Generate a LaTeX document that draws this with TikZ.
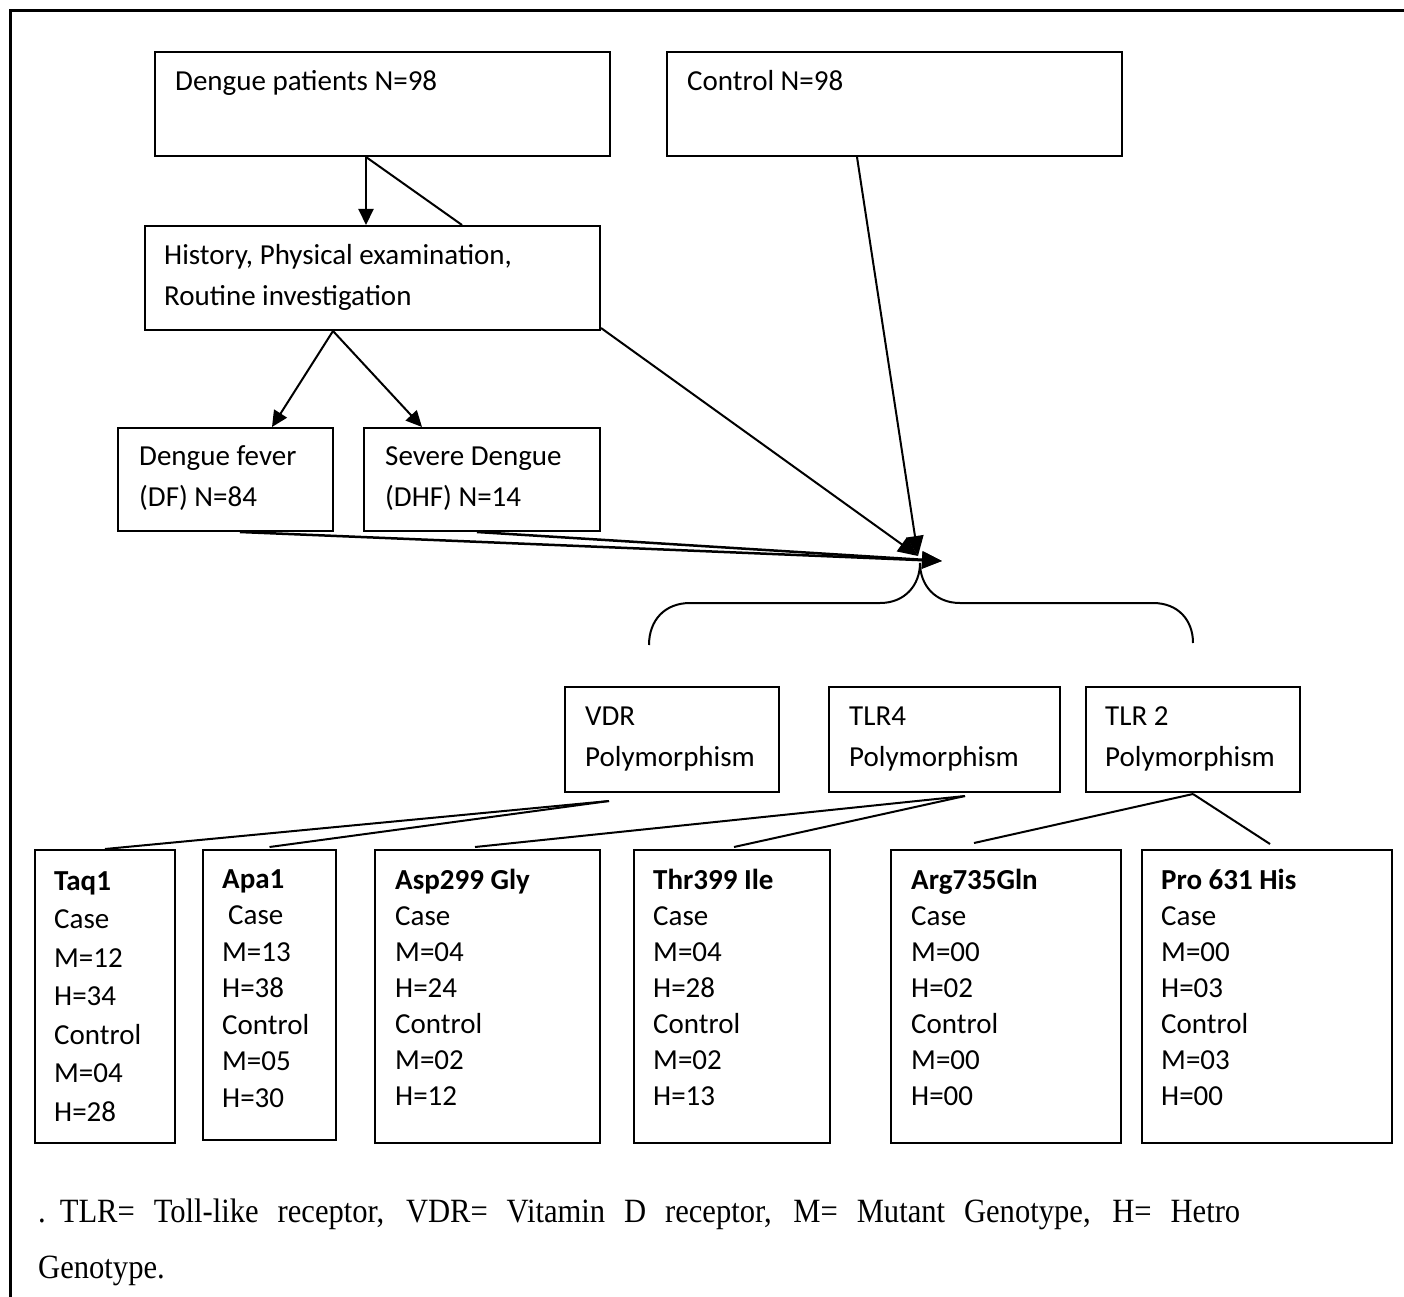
\documentclass[tikz,border=0pt]{standalone}
\usepackage{fontspec}
\setmainfont{Carlito}
\newfontfamily\notefont{Liberation Serif}[FakeStretch=0.9]
\usetikzlibrary{arrows.meta}
\newcommand{\st}{\rule{0pt}{20pt}}

\begin{document}
\begin{tikzpicture}
[
    x = 1pt, y = -1pt,
    box/.style  = {draw, line width = 2pt, inner sep = 0pt},
    txt/.style  = {anchor = north west, inner sep = 0pt, align = left, font = \fontsize{29}{41}\selectfont},
    res/.style  = {txt, font = \fontsize{29}{36}\selectfont},
    link/.style = {line width = 2pt},
    arr/.style  = {line width = 2pt, -{Triangle[length = 16pt, width = 15pt]}},
    bigarr/.style = {arr, -{Triangle[length = 20pt, width = 17pt]}}
]
\useasboundingbox (0,0) rectangle (1404,1297);
\draw[line width = 3pt] (10,1297) -- (10,11) -- (1404,11);

% top row
\node[box, minimum width = 455, minimum height = 104] (pat) at (382.5,104) {};
\node[txt] (patT) at ([xshift = 21pt, yshift = -19pt]pat.north west) {\st Dengue patients N=98};
\node[box, minimum width = 455, minimum height = 104] (ctl) at (894.5,104) {};
\node[txt] (ctlT) at ([xshift = 21pt, yshift = -19pt]ctl.north west) {\st Control N=98};
\node[box, minimum width = 455, minimum height = 104] (hist) at (372.5,278) {};
\node[txt] (histT) at ([xshift = 20pt, yshift = -19pt]hist.north west) {\st History, Physical examination,\\ Routine investigation};

% clinical groups
\node[box, minimum width = 215, minimum height = 103] (df) at (225.5,479.5) {};
\node[txt] (dfT) at ([xshift = 22pt, yshift = -18pt]df.north west) {\st Dengue fever\\ (DF) N=84};
\node[box, minimum width = 236, minimum height = 103] (dhf) at (482,479.5) {};
\node[txt] (dhfT) at ([xshift = 22pt, yshift = -18pt]dhf.north west) {\st Severe Dengue\\ (DHF) N=14};

% polymorphisms
\node[box, minimum width = 214, minimum height = 105] (vdr) at (672,739.5) {};
\node[txt] (vdrT) at ([xshift = 21pt, yshift = -19pt]vdr.north west) {\st VDR\\ Polymorphism};
\node[box, minimum width = 231, minimum height = 105] (tlr4) at (944.5,739.5) {};
\node[txt] (tlr4T) at ([xshift = 21pt, yshift = -19pt]tlr4.north west) {\st TLR4\\ Polymorphism};
\node[box, minimum width = 214, minimum height = 105] (tlr2) at (1193,739.5) {};
\node[txt] (tlr2T) at ([xshift = 20pt, yshift = -19pt]tlr2.north west) {\st TLR 2\\ Polymorphism};

% genotype counts
\node[box, minimum width = 140, minimum height = 293] (taq) at (105,996.5) {};
\node[res, font = \fontsize{29}{38.5}\selectfont] (taqT) at ([xshift = 20pt, yshift = -21pt]taq.north west)
    {\st\textbf{Taq1}\\ Case\\ M=12\\ H=34\\ Control\\ M=04\\ H=28};
\node[box, minimum width = 133, minimum height = 290] (apa) at (269.5,995) {};
\node[res, font = \fontsize{29}{36.5}\selectfont] (apaT) at ([xshift = 20pt, yshift = -19pt]apa.north west)
    {\st\textbf{Apa1}\\ \hspace{6pt}Case\\ M=13\\ H=38\\ Control\\ M=05\\ H=30};
\node[box, minimum width = 225, minimum height = 293] (asp) at (487.5,996.5) {};
\node[res] (aspT) at ([xshift = 21pt, yshift = -20pt]asp.north west)
    {\st\textbf{Asp299 Gly}\\ Case\\ M=04\\ H=24\\ Control\\ M=02\\ H=12};
\node[box, minimum width = 196, minimum height = 293] (thr) at (732,996.5) {};
\node[res] (thrT) at ([xshift = 20pt, yshift = -20pt]thr.north west)
    {\st\textbf{Thr399 Ile}\\ Case\\ M=04\\ H=28\\ Control\\ M=02\\ H=13};
\node[box, minimum width = 230, minimum height = 293] (arg) at (1006,996.5) {};
\node[res] (argT) at ([xshift = 21pt, yshift = -20pt]arg.north west)
    {\st\textbf{Arg735Gln}\\ Case\\ M=00\\ H=02\\ Control\\ M=00\\ H=00};
\node[box, minimum width = 250, minimum height = 293] (pro) at (1267,996.5) {};
\node[res] (proT) at ([xshift = 20pt, yshift = -20pt]pro.north west)
    {\st\textbf{Pro 631 His}\\ Case\\ M=00\\ H=03\\ Control\\ M=03\\ H=00};

% footnote
\node[anchor = base west, inner sep = 0pt, font = \notefont\fontsize{34}{56}\selectfont] (note) at (38,1222)
    {\makebox[1202pt][s]{.\hspace{14pt}TLR= Toll-like receptor, VDR= Vitamin D receptor, M= Mutant Genotype, H= Hetro}};
\node[anchor = base west, inner sep = 0pt, font = \notefont\fontsize{34}{56}\selectfont] (note2) at (38,1278) {Genotype.};

% connectors
\coordinate (hub) at (918,556);
\coordinate (tip) at (942,561);
\draw[arr] ([xshift = -16.5pt]pat.south) -- ([xshift = -6.5pt]hist.north);
\draw[link] ([xshift = -16.5pt]pat.south) -- ([xshift = 89.5pt]hist.north);
\draw[arr] ([xshift = -39.5pt]hist.south) -- ([xshift = 46.5pt]df.north);
\draw[arr] ([xshift = -39.5pt]hist.south) -- ([xshift = -60pt]dhf.north);
\draw[bigarr] ([yshift = 3pt]hist.south east) -- (hub);
\draw[bigarr] ([xshift = -37.5pt]ctl.south) -- (hub);
\draw[bigarr, line width = 2.5pt] ([xshift = 14.5pt]df.south) -- (tip);
\draw[bigarr, line width = 2.5pt] ([xshift = -5pt]dhf.south) -- (tip);

% brace
\draw[line width = 2pt] (649,645) .. controls (649,620) and (665,603) .. (690,603) -- (880,603)
    .. controls (905,603) and (920,585) .. (920,563)
    .. controls (920,585) and (935,603) .. (960,603) -- (1153,603)
    .. controls (1178,603) and (1193,620) .. (1193,643);

\draw[link] ([xshift = -63pt, yshift = -8pt]vdr.south) -- (taq.north);
\draw[link] ([xshift = -63pt, yshift = -8pt]vdr.south) -- ([yshift = 2pt]apa.north);
\draw[link] ([xshift = 20.5pt, yshift = -3pt]tlr4.south) -- ([xshift = -12.5pt, yshift = 2pt]asp.north);
\draw[link] ([xshift = 20.5pt, yshift = -3pt]tlr4.south) -- ([xshift = 2pt, yshift = 2pt]thr.north);
\draw[link] ([yshift = -1pt]tlr2.south) -- ([xshift = -32pt, yshift = 6pt]arg.north);
\draw[link] ([yshift = -1pt]tlr2.south) -- ([xshift = 3pt, yshift = 5pt]pro.north);
\end{tikzpicture}
\end{document}
